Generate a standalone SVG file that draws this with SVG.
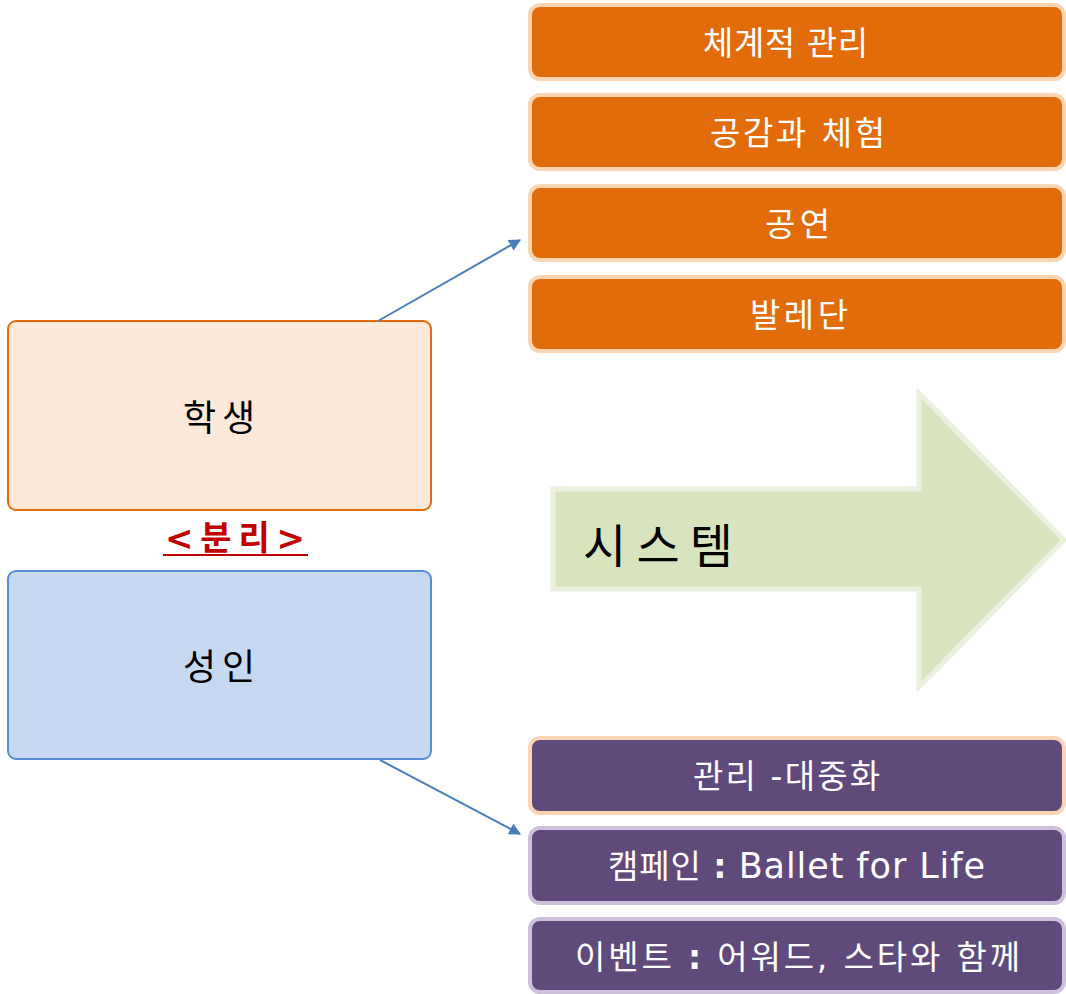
<svg xmlns="http://www.w3.org/2000/svg" width="1066" height="994" viewBox="0 0 1066 994">
<style>
.t{font-family:"DejaVu Sans","Noto Sans CJK KR",sans-serif;dominant-baseline:central}
.w{fill:#ffffff;font-size:33px}
.or{fill:#E36C0A;stroke:#FBD4B4;stroke-width:4}
.pu{fill:#604A7B;stroke:#CCC0DA;stroke-width:4}
.conn{stroke:#4A7EBB;stroke-width:2;fill:none;marker-end:url(#ah)}
</style>
<defs>
<marker id="ah" viewBox="0 0 10 10" refX="9" refY="5" markerWidth="6" markerHeight="6" orient="auto" markerUnits="strokeWidth">
<path d="M0,0 L10,5 L0,10 z" fill="#4A7EBB"/>
</marker>
</defs>
<rect width="1066" height="994" fill="#ffffff"/>
<g id="n1"><rect class="or" x="530" y="5" width="534" height="74" rx="10"/><text class="t w" x="703" y="43" textLength="165" lengthAdjust="spacing">체계적 관리</text></g>
<g id="n2"><rect class="or" x="530" y="95" width="534" height="74" rx="10"/><text class="t w" x="710" y="133" textLength="175" lengthAdjust="spacing">공감과 체험</text></g>
<g id="n3"><rect class="or" x="530" y="186" width="534" height="74" rx="10"/><text class="t w" x="765" y="224" textLength="65" lengthAdjust="spacing">공연</text></g>
<g id="n4"><rect class="or" x="530" y="277" width="534" height="74" rx="10"/><text class="t w" x="750" y="315" textLength="98" lengthAdjust="spacing">발레단</text></g>
<g id="student"><rect x="8" y="321" width="423" height="189" rx="8" fill="#FDE9D9" stroke="#E36C0A" stroke-width="2"/><text class="t" x="183" y="418" font-size="36" fill="#000" textLength="72" lengthAdjust="spacing">학생</text></g>
<g id="sep"><text class="t" x="165" y="538" font-size="34" font-weight="bold" fill="#C00000" textLength="140" lengthAdjust="spacing">&lt;분리&gt;</text><line x1="163" y1="555" x2="308" y2="555" stroke="#C00000" stroke-width="2"/></g>
<g id="adult"><rect x="8" y="571" width="423" height="188" rx="8" fill="#C6D9F1" stroke="#558ED5" stroke-width="2"/><text class="t" x="183" y="667" font-size="36" fill="#000" textLength="72" lengthAdjust="spacing">성인</text></g>
<g id="system"><polygon points="553,489 919,489 919,393 1064,540 919,687 919,589 553,589" fill="#D7E4BD" stroke="#EBF1DE" stroke-width="5"/><text x="583" y="542" font-family="'Noto Sans CJK KR',sans-serif" font-size="47" fill="#000" dominant-baseline="central" textLength="150" lengthAdjust="spacing">시스템</text></g>
<g id="p1"><rect x="530" y="738" width="534" height="75" rx="10" fill="#604A7B" stroke="#FBD4B4" stroke-width="4"/><text class="t w" x="693" y="776" textLength="187" lengthAdjust="spacing">관리 -대중화</text></g>
<g id="p2"><rect class="pu" x="530" y="828" width="534" height="75" rx="10"/><text class="t w" x="608" y="866" textLength="377" lengthAdjust="spacing">캠페인 <tspan font-weight="bold">:</tspan> <tspan font-size="35">Ballet for Life</tspan></text></g>
<g id="p3"><rect class="pu" x="530" y="919" width="534" height="73" rx="10"/><text class="t w" x="575" y="957" textLength="445" lengthAdjust="spacing">이벤트 <tspan font-weight="bold">:</tspan> 어워드, 스타와 함께</text></g>
<g id="connectors">
<line class="conn" x1="378" y1="321" x2="520" y2="240"/>
<line class="conn" x1="380" y1="760" x2="520" y2="834"/>
</g>
</svg>
